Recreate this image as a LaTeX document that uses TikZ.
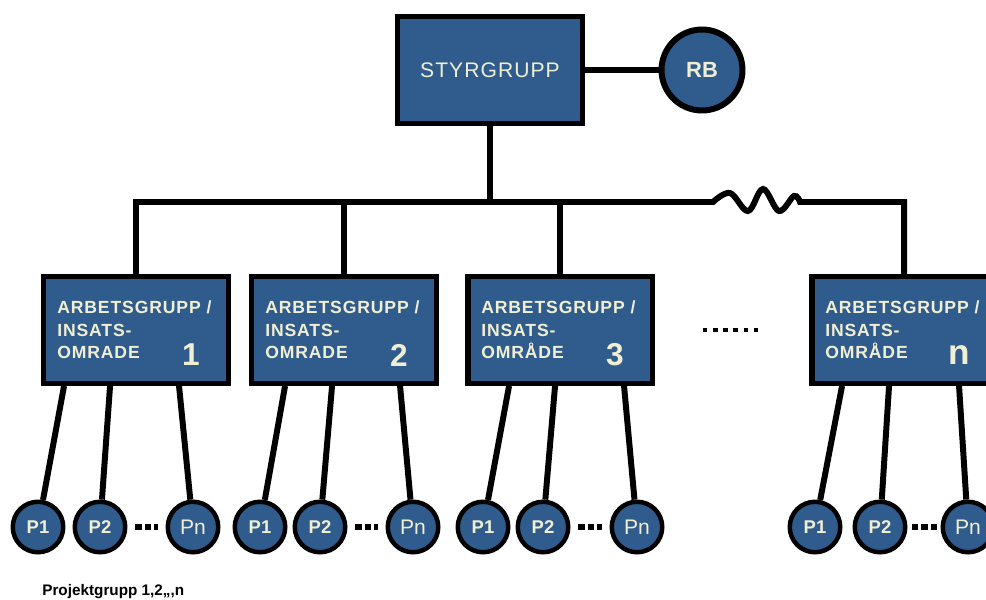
\documentclass[tikz,border=0pt]{standalone}
\usepackage{fontspec}
\setmainfont{Liberation Sans}
\newfontfamily\widefont[LetterSpace=5]{Liberation Sans}
\usetikzlibrary{calc}
\definecolor{boxblue}{HTML}{2F5C8C}
\definecolor{cream}{HTML}{F0EFD4}
\tikzset{
  conn/.style={draw=black, line width=3.4pt},
  grpbox/.style={draw=black, fill=boxblue, line width=3.1pt, inner sep=0pt,
    minimum width=3.69cm, minimum height=2.13cm},
  agtext/.style={grpbox, text=cream, text width=3.15cm, align=left,
    font=\widefont\fontsize{10}{12.8}\selectfont\bfseries},
  num/.style={text=cream, inner sep=0pt, font=\fontsize{18}{18}\selectfont\bfseries},
  pnode/.style={circle, draw=black, fill=boxblue, line width=2.55pt, inner sep=0pt,
    minimum size=1.01cm, text=cream, font=\fontsize{10.5}{12}\selectfont\bfseries},
  pnlbl/.style={font=\fontsize{12}{12}\selectfont},
  pdots/.style={draw=black, line width=3.4pt, dash pattern=on 3.6pt off 1.7pt,
    shorten <=4.5pt, shorten >=4.5pt},
  mdots/.style={draw=black, line width=2.6pt, dash pattern=on 2.6pt off 3.2pt}
}
\begin{document}
\begin{tikzpicture}[x=0.02cm, y=-0.02cm]
  \clip (0,0) rectangle (986,599);
  \fill[white] (0,0) rectangle (986,599);

  % top
  \node[grpbox, text=cream, font=\widefont\fontsize{12}{12}\selectfont] (S) at (490,70) {STYRGRUPP};
  \node[pnode, line width=3.4pt, minimum size=1.62cm, font=\fontsize{12.5}{12}\selectfont\bfseries] (RB) at (702,70) {RB};

  % arbetsgrupper
  \node[agtext] (A1) at (136,330) {ARBETSGRUPP /\\INSATS-\\OMRADE};
  \node[agtext] (A2) at (344,330) {ARBETSGRUPP /\\INSATS-\\OMRADE};
  \node[agtext] (A3) at (560,330) {ARBETSGRUPP /\\INSATS-\\OMRÅDE};
  \node[agtext] (An) at (904,330) {ARBETSGRUPP /\\INSATS-\\OMRÅDE};
  \node[num] (n1) at ($(A1.south east)+(-40,-31)$) {1};
  \node[num] (n2) at ($(A2.south east)+(-40,-31)$) {2};
  \node[num] (n3) at ($(A3.south east)+(-40,-31)$) {3};
  \node[num, font=\fontsize{20}{20}\selectfont\bfseries] (nn) at ($(An.south east)+(-40,-31)$) {n};

  % projektgrupper
  \node[pnode] (P11) at (38,527) {P1};
  \node[pnode] (P12) at (100,527) {P2};
  \node[pnode, pnlbl] (P1n) at (193,527) {Pn};
  \node[pnode] (P21) at (260,527) {P1};
  \node[pnode] (P22) at (320,527) {P2};
  \node[pnode, pnlbl] (P2n) at (413,527) {Pn};
  \node[pnode] (P31) at (483,527) {P1};
  \node[pnode] (P32) at (543,527) {P2};
  \node[pnode, pnlbl] (P3n) at (637,527) {Pn};
  \node[pnode] (Pn1) at (815,527) {P1};
  \node[pnode] (Pn2) at (880,527) {P2};
  \node[pnode, pnlbl] (Pnn) at (968,527) {Pn};

  \node[anchor=west, inner sep=0pt, font=\fontsize{8.7}{10}\selectfont\bfseries] (plabel) at (42,592) {Projektgrupp 1,2,,,n};

  % connectors
  \coordinate (w1) at (713,202);
  \coordinate (w2) at (800,202);
  \draw[conn] (S.east) -- (RB);
  \draw[conn] (S.south) -- (S.south |- w1);
  \draw[conn] (A1.north) |- (w1) -- plot[smooth, tension=0.6] coordinates {(w1) (730,193) (748,211) (763,189) (779,211) (794,196) (w2)} -| (An.north);
  \draw[conn] (A2.north) -- (A2.north |- w1);
  \draw[conn] (A3.north) -- (A3.north |- w1);

  \draw[conn] ($(A1.south west)+(23,0)$) -- (P11);
  \draw[conn] ($(A1.south west)+(69,0)$) -- (P12);
  \draw[conn] ($(A1.south west)+(138,0)$) -- (P1n);
  \draw[conn] ($(A2.south west)+(36,0)$) -- (P21);
  \draw[conn] ($(A2.south west)+(83,0)$) -- (P22);
  \draw[conn] ($(A2.south west)+(151,0)$) -- (P2n);
  \draw[conn] ($(A3.south west)+(44,0)$) -- (P31);
  \draw[conn] ($(A3.south west)+(90,0)$) -- (P32);
  \draw[conn] ($(A3.south west)+(159,0)$) -- (P3n);
  \draw[conn] ($(An.south west)+(33,0)$) -- (Pn1);
  \draw[conn] ($(An.south west)+(80,0)$) -- (Pn2);
  \draw[conn] ($(An.south west)+(150,0)$) -- (Pnn);

  \draw[pdots] (P12) -- (P1n);
  \draw[pdots] (P22) -- (P2n);
  \draw[pdots] (P32) -- (P3n);
  \draw[pdots, shorten <=2.5pt, shorten >=2pt] (Pn2) -- (Pnn);
  \draw[mdots, shorten <=27.2pt, shorten >=26.5pt] (A3.east) -- (An.west);
\end{tikzpicture}
\end{document}
